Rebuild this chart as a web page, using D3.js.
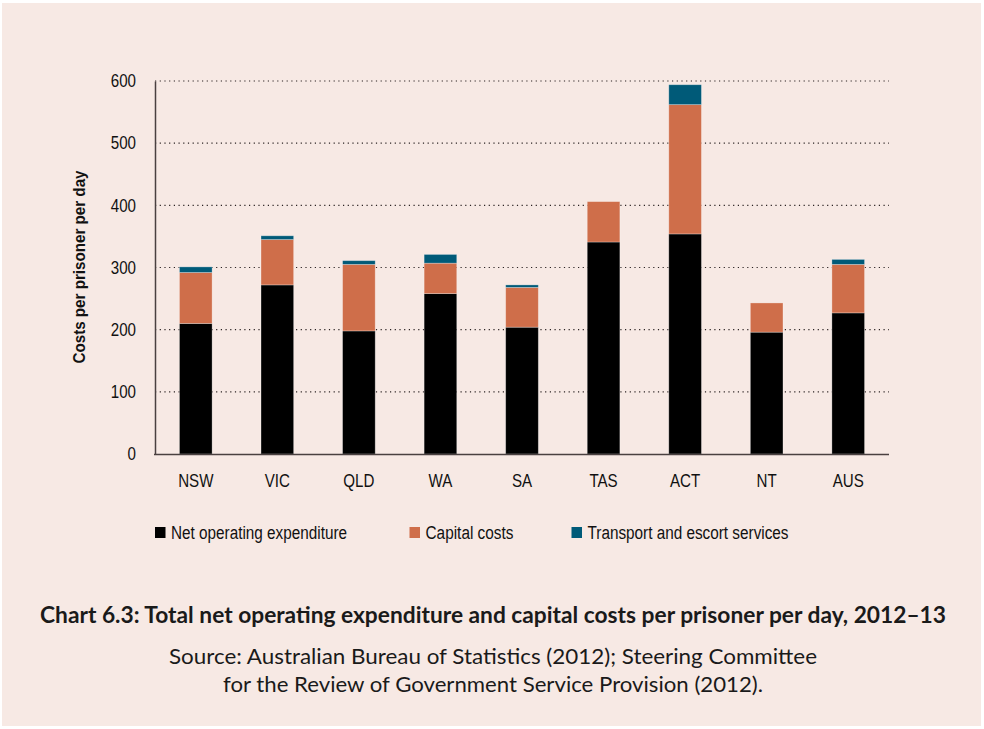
<!DOCTYPE html>
<html>
<head>
<meta charset="utf-8">
<script src="https://cdn.jsdelivr.net/npm/d3@7/dist/d3.min.js"></script>
<style>
  html, body { margin: 0; padding: 0; background: #ffffff; }
  svg { display: block; }
  .narrow { font-family: "Liberation Sans Narrow", "Arial Narrow", "Liberation Sans", Arial, sans-serif; }
  .cap { font-family: Lato, "Open Sans", sans-serif; }
</style>
</head>
<body>
<svg id="chart" width="984" height="729"></svg>
<script>
const categories = ["NSW", "VIC", "QLD", "WA", "SA", "TAS", "ACT", "NT", "AUS"];
const netOperating = [210, 272, 198, 258, 204, 341, 354, 196, 227];
const capitalCosts = [82, 73, 107, 49, 64, 65, 208, 47, 78];
const transport = [9, 6, 6, 14, 4, 0, 32, 0, 8];
const seriesNames = ["Net operating expenditure", "Capital costs", "Transport and escort services"];
const seriesColors = ["#000000", "#cf6e4a", "#005a78"];
const yTicks = [0, 100, 200, 300, 400, 500, 600];
const yLabel = "Costs per prisoner per day";
const title = "Chart 6.3: Total net operating expenditure and capital costs per prisoner per day, 2012\u201313";
const sourceLines = ["Source: Australian Bureau of Statistics (2012); Steering Committee",
                     "for the Review of Government Service Provision (2012)."];

const svg = d3.select("#chart");
svg.append("rect").attr("x", 2).attr("y", 3).attr("width", 979).attr("height", 723).attr("fill", "#f7e9e4");

const margin = { left: 155, right: 889, top: 81, bottom: 454 };
const x = d3.scaleBand().domain(categories).range([margin.left, margin.right]).paddingInner(0.6).paddingOuter(0.3);
const y = d3.scaleLinear().domain([0, 600]).range([margin.bottom, margin.top]);

// gridlines
svg.append("g").selectAll("line").data(yTicks.filter(d => d > 0)).join("line")
  .attr("x1", margin.left).attr("x2", margin.right)
  .attr("y1", d => y(d)).attr("y2", d => y(d))
  .attr("stroke", "#2a2222").attr("stroke-width", 1.2).attr("stroke-dasharray", "1.2,3.5");

// stacked data
const rows = categories.map((c, i) => ({ cat: c, s0: netOperating[i], s1: capitalCosts[i], s2: transport[i] }));
const stack = d3.stack().keys(["s0", "s1", "s2"])(rows);

svg.append("g").selectAll("g").data(stack).join("g")
  .attr("fill", (d, i) => seriesColors[i])
  .selectAll("rect").data(d => d.filter(p => p[1] - p[0] > 0)).join("rect")
  .attr("x", d => x(d.data.cat))
  .attr("width", x.bandwidth())
  .attr("y", d => y(d[1]))
  .attr("height", d => y(d[0]) - y(d[1]))
  .attr("stroke", "rgba(255,255,255,0.35)").attr("stroke-width", 0.8);

// y axis
const yAxis = d3.axisLeft(y).tickValues(yTicks).tickSize(0).tickPadding(19);
const gy = svg.append("g").attr("transform", `translate(${margin.left},0)`).call(yAxis);
gy.select(".domain").attr("stroke", "#4a4040").attr("stroke-width", 1.5);
gy.selectAll("text").attr("class", "narrow sq").attr("font-size", 18).attr("fill", "#111");

// x axis
const xAxis = d3.axisBottom(x).tickSize(0).tickPadding(20);
const gx = svg.append("g").attr("transform", `translate(0,${margin.bottom})`).call(xAxis);
gx.select(".domain").attr("stroke", "#4a4040").attr("stroke-width", 1.5).attr("d", `M${margin.left - 1},0.5H${margin.right}`);
gx.selectAll("text").attr("class", "narrow sq").attr("font-size", 18).attr("fill", "#111");

// y label
svg.append("text").attr("class", "narrow")
  .attr("transform", "translate(85,267) rotate(-90)")
  .attr("text-anchor", "middle").attr("font-size", 17).attr("font-weight", "bold").attr("fill", "#111")
  .attr("textLength", 193).attr("lengthAdjust", "spacingAndGlyphs")
  .text(yLabel);

// legend
const legendX = [155, 409.5, 571.5];
const legendLen = [176, 88, 201];
const lg = svg.append("g").selectAll("g").data(seriesNames).join("g")
  .attr("transform", (d, i) => `translate(${legendX[i]},527)`);
lg.append("rect").attr("width", 10.5).attr("height", 11).attr("fill", (d, i) => seriesColors[i]);
lg.append("text").attr("class", "narrow").attr("x", 16).attr("y", 11.5)
  .attr("font-size", 18).attr("fill", "#111")
  .attr("textLength", (d, i) => legendLen[i]).attr("lengthAdjust", "spacingAndGlyphs")
  .text(d => d);

// condense tick labels to match a narrow face
svg.selectAll("text.sq").each(function () {
  const w = this.getComputedTextLength();
  d3.select(this).attr("textLength", w * 0.84).attr("lengthAdjust", "spacingAndGlyphs");
});

// caption
svg.append("text").attr("class", "cap").attr("x", 493).attr("y", 623)
  .attr("text-anchor", "middle").attr("font-size", 22).attr("font-weight", "bold").attr("fill", "#1a1a1a")
  .attr("textLength", 906).attr("lengthAdjust", "spacingAndGlyphs")
  .text(title);
const srcLen = [648, 540];
svg.append("g").selectAll("text").data(sourceLines).join("text")
  .attr("class", "cap").attr("x", 493).attr("y", (d, i) => 664 + i * 28)
  .attr("text-anchor", "middle").attr("font-size", 21).attr("fill", "#1a1a1a")
  .attr("textLength", (d, i) => srcLen[i]).attr("lengthAdjust", "spacingAndGlyphs")
  .text(d => d);
</script>
</body>
</html>
